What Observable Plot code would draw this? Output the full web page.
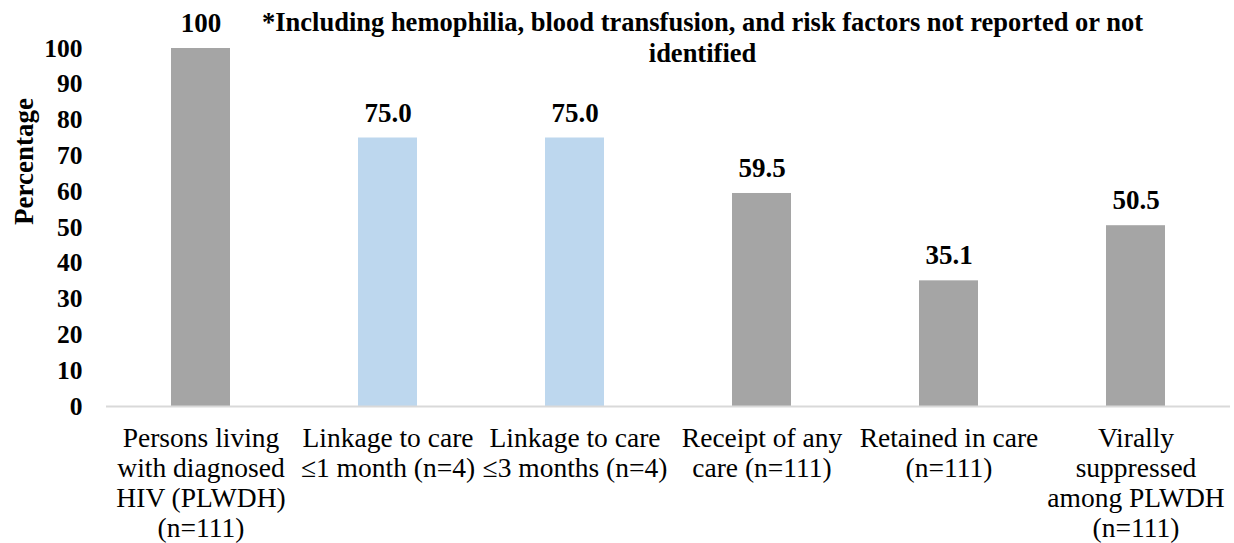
<!DOCTYPE html>
<html>
<head>
<meta charset="utf-8">
<script src="https://cdn.jsdelivr.net/npm/d3@7"></script>
<script src="https://cdn.jsdelivr.net/npm/@observablehq/plot@0.6"></script>
<style>
  html, body { margin: 0; padding: 0; background: #fff; }
  #chart { width: 1234px; height: 543px; overflow: hidden; }
  #chart svg, #chart svg text { font-family: "Liberation Serif", "Times New Roman", serif !important; }
</style>
</head>
<body>
<div id="chart"></div>
<script>
const categories = [
  "Persons living\nwith diagnosed\nHIV (PLWDH)\n(n=111)",
  "Linkage to care\n≤1 month (n=4)",
  "Linkage to care\n≤3 months (n=4)",
  "Receipt of any\ncare (n=111)",
  "Retained in care\n(n=111)",
  "Virally\nsuppressed\namong PLWDH\n(n=111)"
];
const values = [100, 75.0, 75.0, 59.5, 35.1, 50.5];
const valueLabels = ["100", "75.0", "75.0", "59.5", "35.1", "50.5"];
const groups = ["other", "linkage", "linkage", "other", "other", "other"];
const yTicks = [0, 10, 20, 30, 40, 50, 60, 70, 80, 90, 100];
const titleText = "*Including hemophilia, blood transfusion, and risk factors not reported or not\nidentified";
const yLabel = "Percentage";

const data = categories.map((c, i) => ({cat: c, value: values[i], label: valueLabels[i], group: groups[i]}));

const chart = Plot.plot({
  width: 1234,
  height: 543,
  marginLeft: 106,
  marginRight: 4,
  marginTop: 48,
  marginBottom: 137,
  style: {fontSize: "26px", color: "#000", background: "#fff", overflow: "visible"},
  x: {domain: categories, paddingInner: 0.685, paddingOuter: 0.3425, label: null},
  y: {domain: [0, 100], label: null},
  color: {domain: ["other", "linkage"], range: ["#A5A5A5", "#BDD7EE"]},
  marks: [
    Plot.barY(data, {x: "cat", y: "value", fill: "group"}),
    Plot.ruleY([0], {stroke: "#d9d9d9", strokeWidth: 2}),
    Plot.axisY({ticks: yTicks, tickSize: 0, tickPadding: 24, fontWeight: "bold", fontSize: 25.5, label: null}),
    Plot.axisX({tickSize: 0, tickPadding: 19, fontSize: 27.5, lineHeight: 1.09, label: null}),
    Plot.text(data, {x: "cat", y: "value", text: "label", dy: -25, fontWeight: "bold", fontSize: 27}),
    Plot.text([yLabel], {frameAnchor: "left", text: d => d, rotate: -90, textAnchor: "middle", lineAnchor: "middle", dx: -82, dy: -66, fontWeight: "bold", fontSize: 27}),
    Plot.text([titleText], {frameAnchor: "top", text: d => d, lineAnchor: "top", textAnchor: "middle", lineHeight: 1.18, dx: 34, dy: -39.5, fontWeight: "bold", fontSize: 26.5})
  ]
});
document.getElementById("chart").appendChild(chart);
</script>
</body>
</html>
